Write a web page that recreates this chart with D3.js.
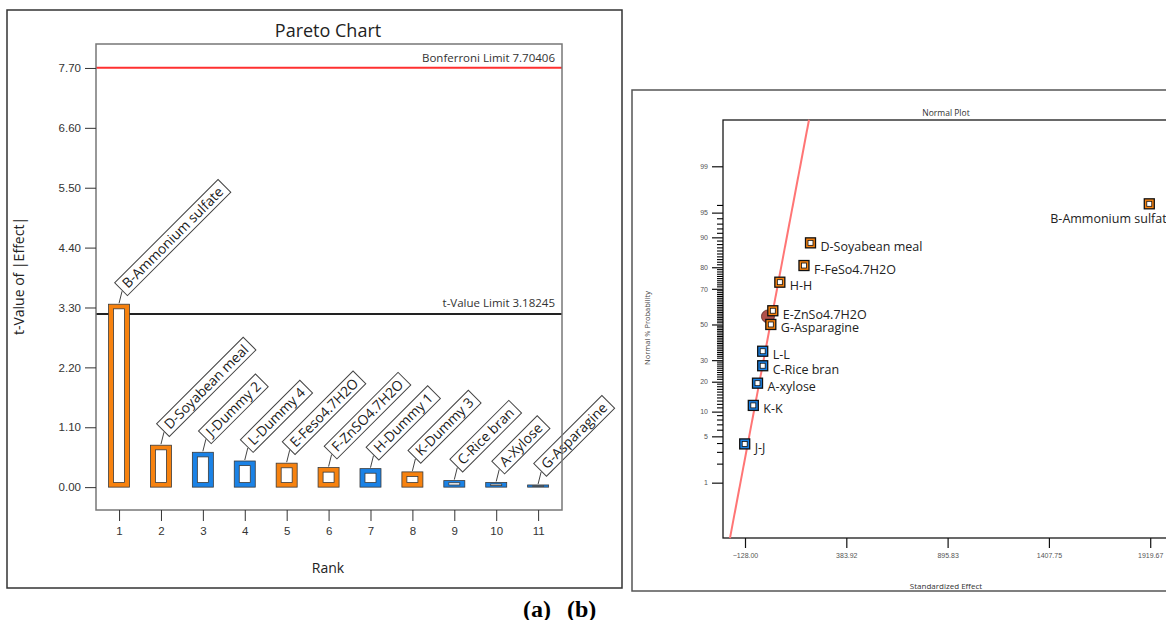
<!DOCTYPE html>
<html>
<head>
<meta charset="utf-8">
<script src="https://cdn.jsdelivr.net/npm/d3@7"></script>
<style>
  body { margin: 0; background: #fff; }
  svg { display: block; font-family: "Open Sans", "Noto Sans", sans-serif; }
  .axis path.domain { display: none; }
  .axis line { stroke: #333; }
</style>
</head>
<body>
<svg id="chart" width="1166" height="620"></svg>
<script>
// --- (a) Pareto chart data ---
const paretoRank = [1, 2, 3, 4, 5, 6, 7, 8, 9, 10, 11];
const paretoTerms = ["B-Ammonium sulfate", "D-Soyabean meal", "J-Dummy 2", "L-Dummy 4", "E-Feso4.7H2O",
  "F-ZnSO4.7H2O", "H-Dummy 1", "K-Dummy 3", "C-Rice bran", "A-Xylose", "G-Asparagine"];
const paretoTValue = [3.36, 0.77, 0.64, 0.48, 0.44, 0.36, 0.34, 0.28, 0.12, 0.085, 0.04];
const paretoEffectSign = ["+", "+", "-", "-", "+", "+", "-", "+", "-", "-", "-"];
const paretoTicks = [0, 1.1, 2.2, 3.3, 4.4, 5.5, 6.6, 7.7];
const bonferroniLimit = 7.70406;
const tValueLimit = 3.18245;

// --- (b) Normal plot data ---
const normalTerms = ["B-Ammonium sulfate", "D-Soyabean meal", "F-FeSo4.7H2O", "H-H", "E-ZnSo4.7H2O",
  "G-Asparagine", "L-L", "C-Rice bran", "A-xylose", "K-K", "J-J"];
const normalEffect = [1915, 203, 170, 48, 12.5, 2.4, -38.6, -38.6, -64.8, -86, -129.5];
const normalProb = [96.2, 88.5, 80.7, 73.3, 58, 50, 34.7, 27.2, 19.4, 11.7, 3.95];
const normalEffectSign = ["+", "+", "+", "+", "+", "+", "-", "-", "-", "-", "-"];
const centerEffect = [-12];
const centerProb = [54.7];
const fitLineEffect = [-204, 195.4];
const fitLineProb = [0.084, 99.87];
const normalXTicks = [-128.00, 383.92, 895.83, 1407.75, 1919.67];
const normalYTicks = [1, 5, 10, 20, 30, 50, 70, 80, 90, 95, 99];

const C = { pos: "#f7820f", neg: "#1a82e6", edge: "#3a3a3a" };
const svg = d3.select("#chart");

// inverse normal CDF (Acklam), for the probability axis
function probit(p) {
  const a = [-3.969683028665376e+01, 2.209460984245205e+02, -2.759285104469687e+02, 1.383577518672690e+02, -3.066479806614716e+01, 2.506628277459239e+00];
  const b = [-5.447609879822406e+01, 1.615858368580409e+02, -1.556989798598866e+02, 6.680131188771972e+01, -1.328068155288572e+01];
  const c = [-7.784894002430293e-03, -3.223964580411365e-01, -2.400758277161838e+00, -2.549732539343734e+00, 4.374664141464968e+00, 2.938163982698783e+00];
  const d = [7.784695709041462e-03, 3.224671290700398e-01, 2.445134137142996e+00, 3.754408661907416e+00];
  const pl = 0.02425;
  let q, r;
  if (p < pl) {
    q = Math.sqrt(-2 * Math.log(p));
    return (((((c[0]*q+c[1])*q+c[2])*q+c[3])*q+c[4])*q+c[5]) / ((((d[0]*q+d[1])*q+d[2])*q+d[3])*q+1);
  }
  if (p > 1 - pl) {
    q = Math.sqrt(-2 * Math.log(1 - p));
    return -(((((c[0]*q+c[1])*q+c[2])*q+c[3])*q+c[4])*q+c[5]) / ((((d[0]*q+d[1])*q+d[2])*q+d[3])*q+1);
  }
  q = p - 0.5; r = q * q;
  return (((((a[0]*r+a[1])*r+a[2])*r+a[3])*r+a[4])*r+a[5])*q / (((((b[0]*r+b[1])*r+b[2])*r+b[3])*r+b[4])*r+1);
}

// ================= (a) Pareto =================
(function pareto() {
  const box = { left: 96, top: 44, right: 562, bottom: 510 };
  const x = d3.scaleLinear().domain([0.45, 11.57]).range([box.left, box.right]);
  const y = d3.scaleLinear().domain([-0.42, 8.14]).range([box.bottom, box.top]);

  svg.append("rect").attr("x", 7).attr("y", 10).attr("width", 615).attr("height", 578)
    .attr("fill", "none").attr("stroke", "#333").attr("stroke-width", 1.5);

  svg.append("text").attr("x", 328).attr("y", 37).attr("text-anchor", "middle")
    .style("font-size", "18px").style("fill", "#222").text("Pareto Chart");

  // limit lines
  svg.append("line").attr("x1", box.left).attr("x2", box.right)
    .attr("y1", y(bonferroniLimit)).attr("y2", y(bonferroniLimit))
    .attr("stroke", "#ff3030").attr("stroke-width", 2);
  svg.append("text").attr("x", box.right - 7).attr("y", y(bonferroniLimit) - 6).attr("text-anchor", "end")
    .style("font-size", "11.5px").style("fill", "#333").text("Bonferroni Limit " + bonferroniLimit);
  svg.append("line").attr("x1", box.left).attr("x2", box.right)
    .attr("y1", y(tValueLimit)).attr("y2", y(tValueLimit))
    .attr("stroke", "#222").attr("stroke-width", 2);
  svg.append("text").attr("x", box.right - 7).attr("y", y(tValueLimit) - 7).attr("text-anchor", "end")
    .style("font-size", "11.5px").style("fill", "#333").text("t-Value Limit " + tValueLimit);

  // bars: coloured frame with white core
  const bw = 21;
  paretoRank.forEach((r, i) => {
    const v = paretoTValue[i];
    const top = y(v), base = y(0), h = base - top;
    const col = paretoEffectSign[i] === "+" ? C.pos : C.neg;
    svg.append("rect").attr("x", x(r) - bw / 2).attr("y", top).attr("width", bw).attr("height", h)
      .attr("fill", col).attr("stroke", C.edge).attr("stroke-width", 0.8);
    const iv = Math.min(4.6, h * 0.33), ih = 5;
    svg.append("rect").attr("x", x(r) - bw / 2 + ih).attr("y", top + iv)
      .attr("width", bw - 2 * ih).attr("height", Math.max(h - 2 * iv, 0.3))
      .attr("fill", "#fff").attr("stroke", C.edge).attr("stroke-width", 0.8);

    // leader + rotated label box
    svg.append("line").attr("x1", x(r)).attr("y1", top - 1).attr("x2", x(r) + 3).attr("y2", top - 13)
      .attr("stroke", "#444").attr("stroke-width", 1);
    const lg = svg.append("g").attr("transform", `translate(${x(r) + 2},${top - 15}) rotate(-45)`);
    const rect = lg.append("rect").attr("y", -9).attr("height", 18)
      .attr("fill", "#fff").attr("stroke", "#444").attr("stroke-width", 1);
    const t = lg.append("text").attr("x", 5).attr("dy", "0.35em")
      .style("font-size", "13.8px").style("fill", "#1a1a1a").text(paretoTerms[i]);
    rect.attr("width", t.node().getComputedTextLength() + 10);
  });

  svg.append("rect").attr("x", box.left).attr("y", box.top)
    .attr("width", box.right - box.left).attr("height", box.bottom - box.top)
    .attr("fill", "none").attr("stroke", "#777").attr("stroke-width", 1.5);

  const ya = svg.append("g").attr("class", "axis").attr("transform", `translate(${box.left},0)`)
    .call(d3.axisLeft(y).tickValues(paretoTicks).tickFormat(d3.format(".2f")).tickSize(11).tickPadding(4));
  ya.selectAll("text").style("font-size", "11.5px").style("fill", "#333").style("font-family", "inherit");
  const xa = svg.append("g").attr("class", "axis").attr("transform", `translate(0,${box.bottom})`)
    .call(d3.axisBottom(x).tickValues(paretoRank).tickFormat(d3.format("d")).tickSize(11).tickPadding(6));
  xa.selectAll("text").style("font-size", "11.5px").style("fill", "#333").style("font-family", "inherit");

  svg.append("text").attr("x", 328).attr("y", 573).attr("text-anchor", "middle")
    .style("font-size", "14px").style("fill", "#222").text("Rank");
  svg.append("text").attr("transform", "translate(24,276) rotate(-90)").attr("text-anchor", "middle")
    .style("font-size", "14px").style("fill", "#222").text("t-Value of |Effect|");
})();

// ================= (b) Normal plot =================
(function normalPlot() {
  const box = { left: 723, top: 120, bottom: 538 };
  const x = d3.scaleLinear().domain([-239.2, 2100]).range([box.left, 1185.9]);
  const z = d3.scaleLinear().domain([-3.14, 3.007]).range([box.bottom, box.top]);
  const y = p => z(probit(p / 100));

  svg.append("rect").attr("x", 632).attr("y", 90).attr("width", 600).attr("height", 501)
    .attr("fill", "none").attr("stroke", "#555").attr("stroke-width", 1.5);
  svg.append("text").attr("x", 946).attr("y", 116).attr("text-anchor", "middle")
    .style("font-size", "8.5px").style("fill", "#333").text("Normal Plot");

  svg.append("rect").attr("x", box.left).attr("y", box.top).attr("width", 500).attr("height", box.bottom - box.top)
    .attr("fill", "none").attr("stroke", "#1a1a1a").attr("stroke-width", 1.3);

  // minor probability ticks (every whole percent between 2 and 96)
  const minor = d3.range(2, 97).filter(p => !normalYTicks.includes(p));
  svg.append("g")
    .selectAll("line").data(minor).join("line")
    .attr("x1", box.left - 6).attr("x2", box.left)
    .attr("y1", p => y(p)).attr("y2", p => y(p))
    .attr("stroke", "#000").attr("stroke-width", 1.1);

  const ya = svg.append("g").attr("class", "axis").attr("transform", `translate(${box.left},0)`)
    .call(d3.axisLeft(z).tickValues(normalYTicks.map(p => probit(p / 100)))
      .tickFormat((d, i) => normalYTicks[i]).tickSize(11).tickPadding(4));
  ya.selectAll("line").style("stroke", "#111").style("stroke-width", 1.2);
  ya.selectAll("text").style("font-size", "7px").style("fill", "#555").style("font-family", "inherit");

  const xa = svg.append("g").attr("class", "axis").attr("transform", `translate(0,${box.bottom})`)
    .call(d3.axisBottom(x).tickValues(normalXTicks).tickFormat(d3.format(".2f")).tickSize(10).tickPadding(5));
  xa.selectAll("line").style("stroke", "#111").style("stroke-width", 1.2);
  xa.selectAll("text").style("font-size", "7px").style("fill", "#555").style("font-family", "inherit");

  svg.append("text").attr("x", 946).attr("y", 589).attr("text-anchor", "middle")
    .style("font-size", "8px").style("fill", "#333").text("Standardized Effect");
  svg.append("text").attr("transform", "translate(650,328) rotate(-90)").attr("text-anchor", "middle")
    .style("font-size", "7.5px").style("fill", "#444").text("Normal % Probability");

  // fit line
  svg.append("path")
    .datum(fitLineEffect.map((e, i) => [e, fitLineProb[i]]))
    .attr("d", d3.line().x(d => x(d[0])).y(d => y(d[1])))
    .attr("fill", "none").attr("stroke", "#ff7575").attr("stroke-width", 2);

  // center point
  centerEffect.forEach((e, i) => {
    svg.append("circle").attr("cx", x(e)).attr("cy", y(centerProb[i])).attr("r", 6.5)
      .attr("fill", "#b0504a").attr("stroke", "#5a2a26").attr("stroke-width", 0.8);
  });

  normalTerms.forEach((name, i) => {
    const cx = x(normalEffect[i]), cy = y(normalProb[i]);
    const col = normalEffectSign[i] === "+" ? C.pos : C.neg;
    svg.append("rect").attr("x", cx - 5).attr("y", cy - 5).attr("width", 10).attr("height", 10)
      .attr("fill", col).attr("stroke", "#111").attr("stroke-width", 1.3);
    svg.append("rect").attr("x", cx - 2.5).attr("y", cy - 2.5).attr("width", 5).attr("height", 5)
      .attr("fill", "#fff").attr("stroke", "#111").attr("stroke-width", 0.8);
    const below = i === 0;
    svg.append("text")
      .attr("x", below ? cx - 99 : cx + 10)
      .attr("y", below ? cy + 19 : cy + 8)
      .style("font-size", "12.5px").style("fill", "#222").text(name);
  });
})();

// panel captions
svg.append("text").attr("x", 523).attr("y", 617)
  .style("font-family", "'Liberation Serif', 'DejaVu Serif', serif").style("font-weight", "bold")
  .style("font-size", "24px").style("fill", "#000").text("(a)");
svg.append("text").attr("x", 567).attr("y", 617)
  .style("font-family", "'Liberation Serif', 'DejaVu Serif', serif").style("font-weight", "bold")
  .style("font-size", "24px").style("fill", "#000").text("(b)");
</script>
</body>
</html>
